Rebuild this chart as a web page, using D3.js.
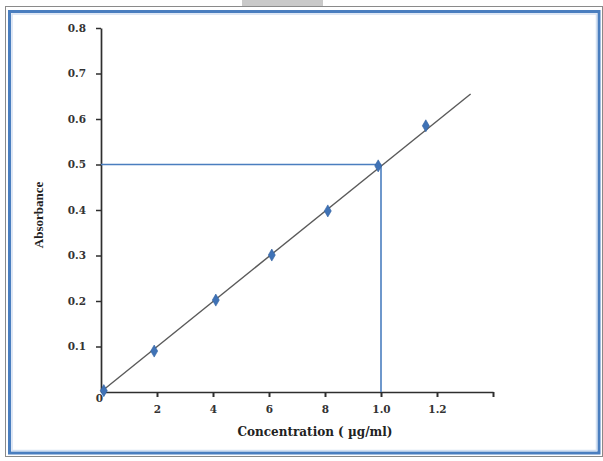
<!DOCTYPE html>
<html>
<head>
<meta charset="utf-8">
<script src="https://cdn.jsdelivr.net/npm/d3@7"></script>
<style>
  html, body { margin: 0; padding: 0; background: #ffffff; }
  svg { display: block; }
</style>
</head>
<body>
<svg id="chart" width="603" height="461"></svg>
<script>
// ---- data ----
const concentration = [0.1, 1.9, 4.1, 6.1, 8.1, 9.9, 11.6];
const absorbance    = [0.003, 0.090, 0.202, 0.301, 0.398, 0.497, 0.585];
const fitX = [0.07, 13.2];
const fitY = [0.004, 0.655];
const refX = 10;
const refY = 0.5;
const xTicks = [0, 2, 4, 6, 8, 10, 12, 14];
const xTickLabels = ["0", "2", "4", "6", "8", "1.0", "1.2", ""];
const yTicks = [0.1, 0.2, 0.3, 0.4, 0.5, 0.6, 0.7, 0.8];
const yTickLabels = ["0.1", "0.2", "0.3", "0.4", "0.5", "0.6", "0.7", "0.8"];
const xTitle = "Concentration ( µg/ml)";
const yTitle = "Absorbance";

// ---- drawing ----
const svg = d3.select("#chart");

// window frame
svg.append("rect").attr("x", 242).attr("y", 0).attr("width", 81).attr("height", 6).attr("fill", "#c9c9c9");
svg.append("rect").attr("x", 5.5).attr("y", 6.5).attr("width", 597).attr("height", 450)
  .attr("fill", "none").attr("stroke", "#8a8a8a").attr("stroke-width", 1);
svg.append("rect").attr("x", 9.5).attr("y", 11.5).attr("width", 589.5).attr("height", 441.5)
  .attr("fill", "none").attr("stroke", "#4a7ebf").attr("stroke-width", 3);
svg.append("rect").attr("x", 12).attr("y", 14).attr("width", 584.5).attr("height", 436.5)
  .attr("fill", "none").attr("stroke", "#d3e0f2").attr("stroke-width", 1.5);

const x = d3.scaleLinear().domain([0, 14]).range([101, 493]);
const y = d3.scaleLinear().domain([0, 0.8]).range([392, 28]);

const axisColor = "#2e2e2e";
const tickFont = "'DejaVu Serif', serif";

// y axis
const yAxisG = svg.append("g").attr("transform", `translate(${x(0)},0)`)
  .call(d3.axisLeft(y).tickValues(yTicks).tickFormat((d, i) => yTickLabels[i])
    .tickSize(5).tickSizeOuter(0).tickPadding(10));
yAxisG.select(".domain").attr("stroke", axisColor).attr("stroke-width", 1.7);
yAxisG.selectAll(".tick line").attr("stroke", axisColor).attr("stroke-width", 1.5);
yAxisG.selectAll(".tick text").attr("fill", "#333").attr("font-family", tickFont)
  .attr("font-weight", "bold").attr("font-size", 10.5);

// x axis
const xAxisG = svg.append("g").attr("transform", `translate(0,${y(0)})`)
  .call(d3.axisBottom(x).tickValues(xTicks).tickFormat((d, i) => xTickLabels[i])
    .tickSize(5).tickSizeOuter(0).tickPadding(9));
xAxisG.select(".domain").attr("stroke", axisColor).attr("stroke-width", 1.7);
xAxisG.selectAll(".tick line").attr("stroke", axisColor).attr("stroke-width", 2);
xAxisG.selectAll(".tick text").attr("fill", "#333").attr("font-family", tickFont)
  .attr("font-weight", "bold").attr("font-size", 10.5);
// origin label sits tucked near the corner
xAxisG.selectAll(".tick").filter(d => d === 0).select("line").remove();
xAxisG.selectAll(".tick").filter(d => d === 0).select("text").attr("x", -2).attr("y", 3);

// reference lines
svg.append("line").attr("x1", x(0)).attr("x2", x(refX)).attr("y1", y(refY)).attr("y2", y(refY))
  .attr("stroke", "#4a7ebf").attr("stroke-width", 1.6);
svg.append("line").attr("x1", x(refX)).attr("x2", x(refX)).attr("y1", y(refY)).attr("y2", y(0))
  .attr("stroke", "#4a7ebf").attr("stroke-width", 1.6);

// fit line
svg.append("line").attr("x1", x(fitX[0])).attr("y1", y(fitY[0]))
  .attr("x2", x(fitX[1])).attr("y2", y(fitY[1]))
  .attr("stroke", "#5a5a5a").attr("stroke-width", 1.4);

// points
const diamond = d3.symbol().type(d3.symbolDiamond).size(42);
svg.append("g").selectAll("path").data(concentration).join("path")
  .attr("d", diamond)
  .attr("transform", (d, i) => `translate(${x(d)},${y(absorbance[i])})`)
  .attr("fill", "#3f72b6").attr("stroke", "#2f5f9f").attr("stroke-width", 0.6);

// titles
svg.append("text").attr("x", 315).attr("y", 436)
  .attr("text-anchor", "middle").attr("font-family", tickFont)
  .attr("font-weight", "bold").attr("font-size", 12).attr("fill", "#222")
  .text(xTitle);
svg.append("text").attr("transform", "translate(43,215) rotate(-90)")
  .attr("text-anchor", "middle").attr("font-family", "'Liberation Serif', serif")
  .attr("font-weight", "bold").attr("font-size", 13).attr("fill", "#222")
  .text(yTitle);
</script>
</body>
</html>
